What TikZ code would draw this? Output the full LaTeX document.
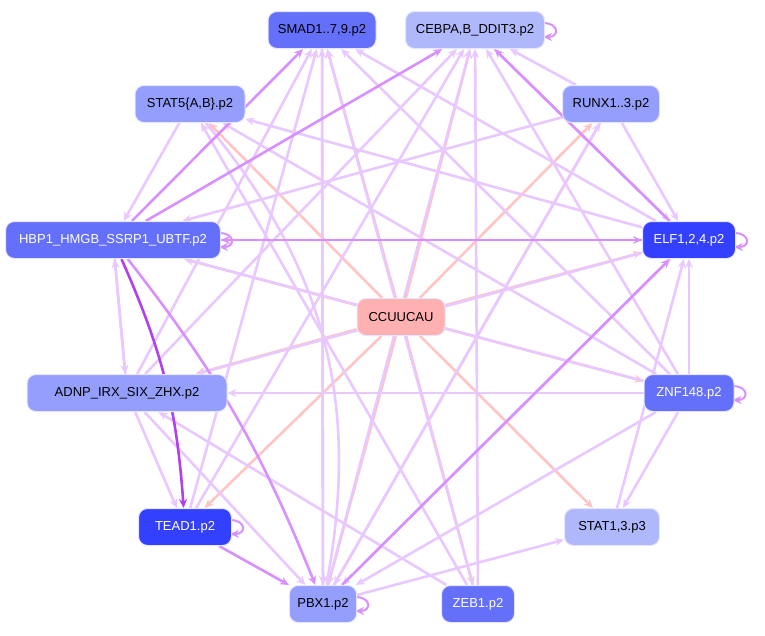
\documentclass[tikz,border=0pt]{standalone}
\usepackage{fontspec}
\setmainfont{Liberation Sans}
\usetikzlibrary{arrows.meta,backgrounds}
\definecolor{dkblue}{HTML}{3340FF}
\definecolor{mdblue}{HTML}{6470FA}
\definecolor{ltblue}{HTML}{949EFC}
\definecolor{vlblue}{HTML}{B0B8FC}
\definecolor{motif}{HTML}{FFB0B0}
\definecolor{pinkedge}{HTML}{FFC4C4}
\definecolor{lilac}{HTML}{E8C8FF}
\definecolor{violet}{HTML}{D890FF}
\definecolor{dkviolet}{HTML}{B040F0}
\begin{document}
\begin{tikzpicture}[x=1pt,y=-1pt]
    % `tf' is used for the transcription factor boxes.
    % `mot' is used for the motif box in the middle.
    \tikzstyle{tf} = [draw=blue!10,line width=1pt,rounded corners=9pt,minimum height=37pt,inner xsep=8pt,font=\fontsize{13}{15}\selectfont]
    \tikzstyle{mot} = [tf,fill=motif]
    \tikzstyle{hit} = [-{Stealth[length=9pt,width=8pt]},draw=pinkedge,line width=2.6pt]
    \tikzstyle{lin} = [-{Stealth[length=9pt,width=8pt]},draw=lilac,line width=2.6pt]
    \tikzstyle{str} = [-{Stealth[length=9pt,width=8pt]},draw=violet,line width=2.6pt]
    \tikzstyle{deep} = [-{Stealth[length=9pt,width=8pt]},draw=dkviolet,line width=2.6pt]
    \useasboundingbox (0,0) rectangle (765,635);
    %
    \node[tf,fill=mdblue,minimum width=108pt] (smad) at (322,30) {SMAD1..7,9.p2};
    \node[tf,fill=vlblue,minimum width=139pt] (cebpa) at (475,30) {CEBPA,B\_DDIT3.p2};
    \node[tf,fill=ltblue,minimum width=110pt] (stat5) at (190,104) {STAT5\{A,B\}.p2};
    \node[tf,fill=ltblue,minimum width=97pt] (runx) at (611,104) {RUNX1..3.p2};
    \node[tf,fill=mdblue,text=white,minimum width=215pt] (hbp1) at (113,240) {HBP1\_HMGB\_SSRP1\_UBTF.p2};
    \node[tf,fill=dkblue,text=white,minimum width=93pt] (elf) at (689,240) {ELF1,2,4.p2};
    \node[mot,minimum width=88pt] (ccu) at (401,317) {CCUUCAU};
    \node[tf,fill=ltblue,minimum width=200pt] (adnp) at (127,393) {ADNP\_IRX\_SIX\_ZHX.p2};
    \node[tf,fill=mdblue,text=white,minimum width=90pt] (znf) at (689,393) {ZNF148.p2};
    \node[tf,fill=dkblue,text=white,minimum width=93pt] (tead) at (185,527) {TEAD1.p2};
    \node[tf,fill=vlblue,minimum width=95pt] (stat1) at (612,527) {STAT1,3.p3};
    \node[tf,fill=ltblue,minimum width=67pt] (pbx1) at (323,604) {PBX1.p2};
    \node[tf,fill=mdblue,text=white,minimum width=73pt] (zeb1) at (478,604) {ZEB1.p2};
    %
    \begin{pgfonlayer}{background}
    % motif hits
    \foreach \t in {smad,cebpa,stat5,runx,hbp1,elf,adnp,znf,tead,stat1,pbx1,zeb1}
      \draw[hit] (ccu) -- (\t);
    % weak links
    \foreach \s/\t in {elf/smad,elf/stat5,elf/adnp,elf/pbx1,runx/cebpa,runx/hbp1,runx/pbx1,
        znf/elf,znf/adnp,znf/stat1,znf/smad,znf/hbp1,znf/stat5,znf/pbx1,znf/cebpa,
        zeb1/smad,zeb1/cebpa,zeb1/adnp,zeb1/stat5,pbx1/cebpa,pbx1/smad,pbx1/runx,pbx1/stat1,
        tead/smad,tead/cebpa,adnp/smad,adnp/cebpa,adnp/tead,adnp/pbx1,stat5/hbp1,
        smad/pbx1,stat1/elf,hbp1/adnp,adnp/hbp1,runx/elf,cebpa/elf}
      \draw[lin] (\s) -- (\t);
    \draw[lin] (stat5) to[bend left=25] (pbx1);
    % strong links
    \foreach \s/\t in {elf/hbp1,hbp1/elf,elf/cebpa,tead/pbx1,pbx1/elf,hbp1/smad,hbp1/cebpa}
      \draw[str] (\s) -- (\t);
    \draw[str] (hbp1) to[bend left=8] (pbx1);
    \draw[deep] (hbp1) to[bend left=10] (tead);
    % self loops
    \foreach \n in {cebpa,hbp1,elf,znf,tead,pbx1} {
      \path (\n.east) ++(-2,-7) coordinate (\n-lo) (\n.east) ++(-2,7) coordinate (\n-li);
      \draw[str,line width=2pt] (\n-lo) to[out=0,in=0,looseness=3] (\n-li);
    }
    \end{pgfonlayer}
\end{tikzpicture}
\end{document}
